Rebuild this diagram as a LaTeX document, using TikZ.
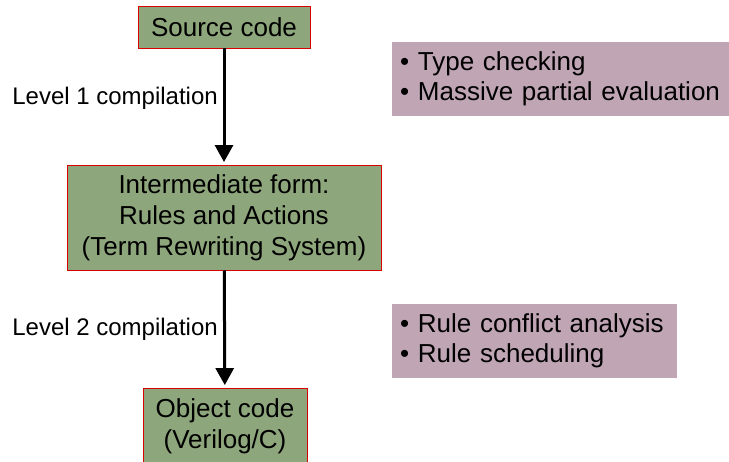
\documentclass[tikz,border=0pt]{standalone}
\usepackage{fontspec}
\setmainfont{Liberation Sans}
\usetikzlibrary{arrows.meta}

\definecolor{stagegreen}{RGB}{142,166,123}
\definecolor{notepink}{RGB}{192,165,180}

\begin{document}
\begin{tikzpicture}[x=1pt,y=-1pt,
    stage/.style={
      draw=red!85!black,
      line width=0.9pt,
      fill=stagegreen,
      align=center,
      inner sep=0pt,
      font=\fontsize{26pt}{31pt}\selectfont
    },
    notes/.style={
      fill=notepink,
      anchor=north west,
      align=left,
      inner xsep=8pt,
      inner ysep=0pt,
      font=\fontsize{26pt}{30pt}\selectfont
    },
    flow/.style={
      line width=3pt,
      -{Triangle[length=17pt,width=18pt]},
      shorten >=2.5pt
    },
    passlabel/.style={
      anchor=east,
      inner sep=0pt,
      font=\fontsize{24pt}{28pt}\selectfont
    }
  ]
  \useasboundingbox (0,0) rectangle (729,462);

  % the three stages
  \node[stage, minimum width=172pt, minimum height=42pt] (src) at (224,27)
    {Source code};
  \node[stage, minimum width=314pt, minimum height=105pt] (mid) at (224,217.5)
    {Intermediate form:\\Rules and Actions\\(Term Rewriting System)};
  \node[stage, minimum width=164pt, minimum height=76pt] (obj) at (225,426)
    {Object code\\(Verilog/C)};

  % compilation steps
  \draw[flow] (src) -- (mid);
  \draw[flow] (mid) -- (obj);
  \node[passlabel] (lvl1) at (218,98) {Level 1 compilation};
  \node[passlabel] (lvl2) at (218,329) {Level 2 compilation};

  % what each step does
  \node[notes, text width=330pt, minimum height=74pt] (chk) at (392,42)
    {• Type checking\\\mbox{• Massive partial evaluation}};
  \node[notes, text width=269pt, minimum height=74pt] (sched) at (392,304)
    {• Rule conflict analysis\\• Rule scheduling};
\end{tikzpicture}
\end{document}
